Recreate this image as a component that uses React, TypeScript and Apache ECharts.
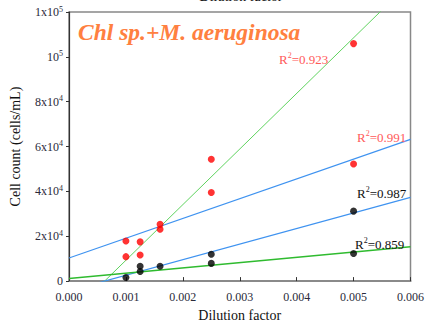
import React, { useEffect, useRef } from "react";
import * as echarts from "echarts";

// Measured cell counts against dilution factor
const redX = [0.001, 0.001, 0.00125, 0.00125, 0.0016, 0.0016, 0.0025, 0.0025, 0.005, 0.005];
const redY = [17900, 10900, 17500, 11600, 25300, 23100, 54300, 39500, 105900, 52200];
const blackX = [0.001, 0.00125, 0.00125, 0.0016, 0.0025, 0.0025, 0.005, 0.005];
const blackY = [1600, 6600, 4300, 6600, 12000, 7900, 31200, 12300];

// Linear fits: y = slope * x + intercept
const fitNames = ["fitRedSteep", "fitRedBlue", "fitBlackBlue", "fitBlackGreen"];
const fitSlopes = [2.48e7, 8.82e6, 6.95e6, 2.35e6];
const fitIntercepts = [-15500, 10300, -4340, 1190];
const fitColors = ["#5fd35f", "#3f93f0", "#3f93f0", "#2fbb2f"];
const fitWidths = [1, 1.2, 1.2, 1.5];

// R² annotations
const r2Texts = ["0.923", "0.991", "0.987", "0.859"];
const r2Colors = ["#ff5a5a", "#ff5a5a", "#111111", "#111111"];

// Axis tick labels
const yTickValues = [0, 20000, 40000, 60000, 80000, 100000, 120000];
const yTickLabels = ["{n|0}", "{n|2x10}{s|4}", "{n|4x10}{s|4}", "{n|6x10}{s|4}", "{n|8x10}{s|4}", "{n|10}{s|5}", "{n|1x10}{s|5}"];

const X_MIN = 0;
const X_MAX = 0.006;

const SERIF = "Liberation Serif";

export default function App() {
  const ref = useRef<HTMLDivElement>(null);

  useEffect(() => {
    document.body.style.margin = "0";
    if (!ref.current) return;
    const chart = echarts.init(ref.current, null, { renderer: "svg" });

    const fitSeries = fitNames.map((name, i) => ({
      name,
      type: "line",
      data: [
        [X_MIN, fitSlopes[i] * X_MIN + fitIntercepts[i]],
        [X_MAX, fitSlopes[i] * X_MAX + fitIntercepts[i]],
      ],
      symbol: "none",
      clip: true,
      lineStyle: { color: fitColors[i], width: fitWidths[i] },
      z: 2,
    }));

    const r2Pos = [
      [279, 59],
      [357, 137],
      [357, 193],
      [355, 244],
    ];
    const r2Graphics = r2Texts.map((t, i) => ({
      type: "text",
      x: r2Pos[i][0],
      y: r2Pos[i][1],
      style: {
        text: `{n|R}{s|2}{n|=${t}}`,
        verticalAlign: "middle",
        rich: {
          n: { fontFamily: SERIF, fontSize: 13, fill: r2Colors[i], lineHeight: 16 },
          s: { fontFamily: SERIF, fontSize: 8, fill: r2Colors[i], verticalAlign: "top", lineHeight: 8 },
        },
      },
      z: 10,
    }));

    chart.setOption({
      animation: false,
      backgroundColor: "#ffffff",
      grid: {
        left: 65,
        top: 12,
        right: 10,
        bottom: 43,
        show: true,
        borderColor: "#888888",
        borderWidth: 1.5,
      },
      xAxis: {
        type: "value",
        min: X_MIN,
        max: X_MAX,
        interval: 0.001,
        name: "Dilution factor",
        nameLocation: "middle",
        nameGap: 26,
        nameTextStyle: { fontFamily: SERIF, fontSize: 14, color: "#111" },
        axisLine: { show: true, lineStyle: { color: "#8a8a8a", width: 2 } },
        axisTick: { show: true, inside: true, length: 4, lineStyle: { color: "#333" } },
        axisLabel: {
          fontFamily: SERIF,
          fontSize: 12,
          color: "#2a2a3a",
          margin: 10,
          formatter: (v: number) => v.toFixed(3),
        },
        splitLine: { show: false },
      },
      yAxis: {
        type: "value",
        min: 0,
        max: 120000,
        interval: 20000,
        name: "Cell count (cells/mL)",
        nameLocation: "middle",
        nameGap: 47,
        nameTextStyle: { fontFamily: SERIF, fontSize: 14, color: "#111" },
        axisLine: { show: true, lineStyle: { color: "#333", width: 1.2 } },
        axisTick: { show: true, inside: false, length: 3, lineStyle: { color: "#333" } },
        axisLabel: {
          margin: 6,
          formatter: (v: number) => {
            const idx = yTickValues.indexOf(v);
            return idx >= 0 ? yTickLabels[idx] : "";
          },
          rich: {
            n: { fontFamily: SERIF, fontSize: 12, color: "#2a2a3a", lineHeight: 14 },
            s: { fontFamily: SERIF, fontSize: 8, color: "#2a2a3a", verticalAlign: "top", lineHeight: 8 },
          },
        },
        splitLine: { show: false },
      },
      series: [
        ...fitSeries,
        {
          name: "red",
          type: "scatter",
          data: redX.map((x, i) => [x, redY[i]]),
          symbol: "circle",
          symbolSize: 7,
          itemStyle: { color: "#ff0000" },
          z: 5,
        },
        {
          name: "black",
          type: "scatter",
          data: blackX.map((x, i) => [x, blackY[i]]),
          symbol: "circle",
          symbolSize: 7,
          itemStyle: { color: "#000000" },
          z: 5,
        },
      ],
      graphic: [
        {
          type: "text",
          x: 78,
          y: 32,
          style: {
            text: "Chl sp.+M. aeruginosa",
            fontFamily: SERIF,
            fontSize: 23.5,
            fontWeight: "bold",
            fontStyle: "italic",
            fill: "#ff8040",
            verticalAlign: "middle",
          },
          z: 10,
        },
        {
          type: "text",
          x: 241,
          y: -4,
          style: {
            text: "Dilution factor",
            fontFamily: SERIF,
            fontSize: 14,
            fill: "#111",
            align: "center",
            verticalAlign: "middle",
          },
        },
        ...r2Graphics,
      ],
    });

    return () => chart.dispose();
  }, []);

  return <div ref={ref} style={{ width: 427, height: 327 }} />;
}
